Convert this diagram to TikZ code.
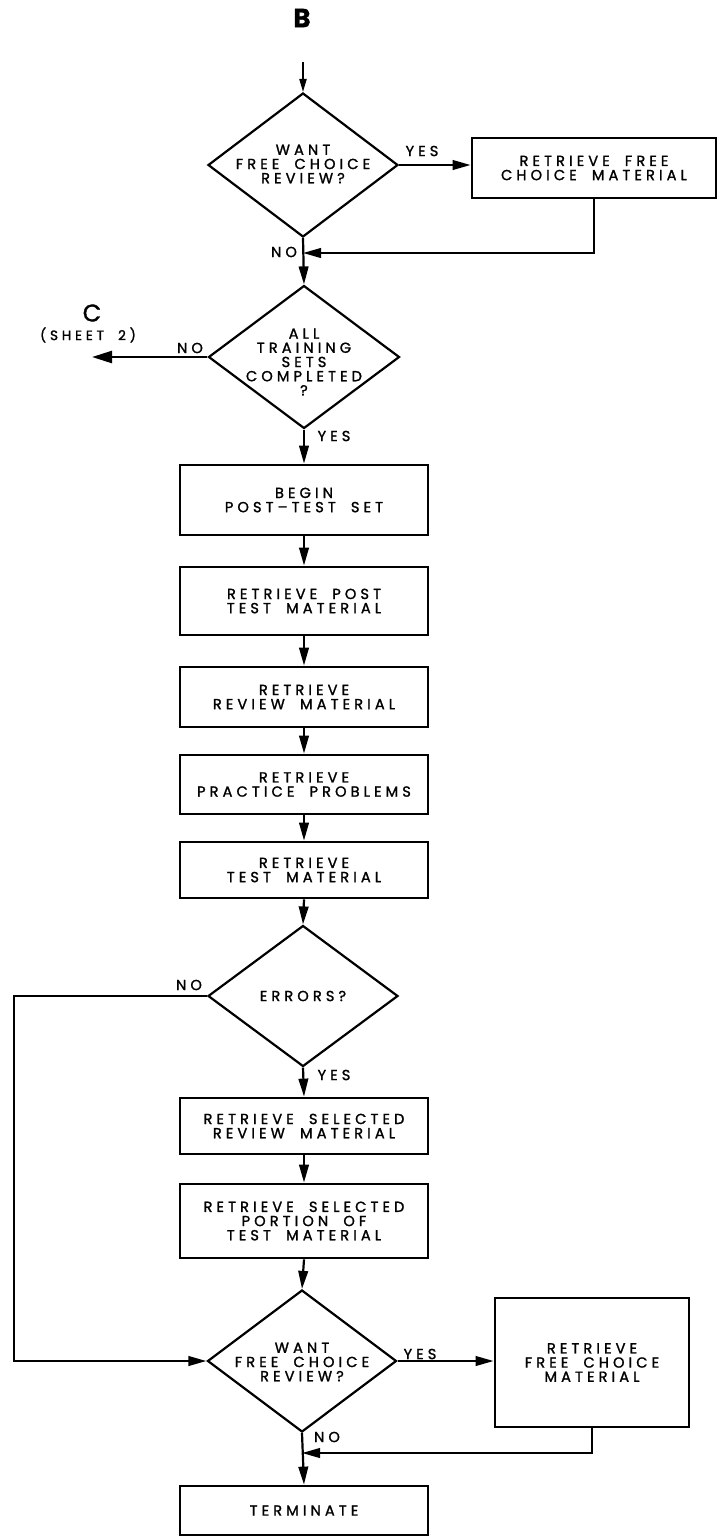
\documentclass[tikz,border=0pt]{standalone}
\usepackage{fontspec}
\setmainfont{Poppins}[LetterSpace=28,FakeBold=1.4,WordSpace=1.9]
\usetikzlibrary{arrows.meta,shapes.geometric}
\newcommand\ftx{\fontsize{7.3}{7.1}\selectfont}
\begin{document}
\begin{tikzpicture}[x=0.5pt,y=-0.5pt,
  arr/.style={line width=1.1pt,-{Triangle[length=9pt,width=4.8pt]}},
  arrsm/.style={line width=0.8pt,-{Triangle[length=6.5pt,width=3.6pt]}},
  arrbig/.style={line width=1.2pt,-{Triangle[length=10pt,width=6pt]}},
  box/.style={draw,line width=1.4pt,rectangle,inner sep=0pt,font=\ftx,align=center},
  dia/.style={draw,line width=1.1pt,diamond,inner sep=0pt},
  txt/.style={font=\ftx,align=center,inner sep=0pt},
  lab/.style={font=\ftx,inner sep=0pt}]
\useasboundingbox[fill=white] (0,0) rectangle (719,1538);

% titles
\node[font=\fontsize{13}{13}\selectfont\bfseries,inner sep=0pt] (tB) at (302,18) {B};
\node[font=\fontsize{12}{12}\selectfont,inner sep=0pt] (tC) at (92,313) {C};
\node[font=\fontsize{6.8}{6.8}\selectfont,inner sep=0pt] (tS) at (88,335) {(SHEET 2)};

% diamonds
\node[dia,minimum width=95pt,minimum height=72pt] (d1) at (303,165) {};
\node[txt] (d1t) at (303,164) {WANT\\FREE CHOICE\\REVIEW?};
\node[dia,minimum width=95.5pt,minimum height=71.5pt] (d2) at (304,357) {};
\node[txt] (d2t) at (304,362) {ALL\\TRAINING\\SETS\\COMPLETED\\?};
\node[dia,minimum width=95pt,minimum height=70.5pt] (d3) at (303,996) {};
\node[txt] (d3t) at (303,996) {ERRORS?};
\node[dia,minimum width=94.5pt,minimum height=71pt] (d4) at (302,1361) {};
\node[txt] (d4t) at (302,1362) {WANT\\FREE CHOICE\\REVIEW?};

% boxes
\node[box,minimum width=122pt,minimum height=30pt] (free1) at (594,168) {RETRIEVE FREE\\CHOICE MATERIAL};
\node[box,minimum width=124pt,minimum height=35pt] (begin) at (304,500) {BEGIN\\POST--TEST SET};
\node[box,minimum width=124pt,minimum height=34pt] (post) at (304,601) {RETRIEVE POST\\TEST MATERIAL};
\node[box,minimum width=124pt,minimum height=30pt] (rev) at (304,697) {RETRIEVE\\REVIEW MATERIAL};
\node[box,minimum width=124pt,minimum height=29.5pt] (prac) at (304,784.5) {RETRIEVE\\PRACTICE PROBLEMS};
\node[box,minimum width=124pt,minimum height=28pt] (test) at (304,870) {RETRIEVE\\TEST MATERIAL};
\node[box,minimum width=124pt,minimum height=28pt] (selrev) at (304,1126) {RETRIEVE SELECTED\\REVIEW MATERIAL};
\node[box,minimum width=124pt,minimum height=37pt] (selpor) at (304,1221) {RETRIEVE SELECTED\\PORTION OF\\TEST MATERIAL};
\node[box,minimum width=97pt,minimum height=64.5pt] (free2) at (592,1362.5) {RETRIEVE\\FREE CHOICE\\MATERIAL};
\node[box,minimum width=124pt,minimum height=24.5pt] (term) at (304,1510.5) {TERMINATE};

% coordinates
\coordinate (s0) at (303,62);
\coordinate (m1) at (303,253);
\coordinate (cC) at (92,357);
\coordinate (l1) at (14,996);
\coordinate (m2) at (302,1453);

% connectors
\draw[arrsm] (s0) -- (d1.north);
\draw[arr] (d1.east) -- (d1.east -| free1.west);
\draw[arr] (d1.south) -- (d2.north);
\draw[arr] (free1.south) |- (m1);
\draw[arrbig] (d2.west) -- (cC);
\draw[arr] (d2.south) -- (begin.north);
\draw[arr] (begin.south) -- (post.north);
\draw[arr] (post.south) -- (rev.north);
\draw[arr] (rev.south) -- (prac.north);
\draw[arr] (prac.south) -- (test.north);
\draw[arr] (test.south) -- (d3.north);
\draw[arr] (d3.south) -- (selrev.north);
\draw[arr] (selrev.south) -- (selpor.north);
\draw[arr] (selpor.south) -- (d4.north);
\draw[arr] (d3.west) -- (l1) |- (d4.west);
\draw[arr] (d4.east) -- (d4.east -| free2.west);
\draw[arr] (d4.south) -- (term.north);
\draw[arr] (free2.south) |- (m2);

% labels
\node[lab] (y1) at (422,151) {YES};
\node[lab] (n1) at (284,252) {NO};
\node[lab] (n2) at (190,348) {NO};
\node[lab] (y2) at (334,436) {YES};
\node[lab] (n3) at (189,985) {NO};
\node[lab] (y3) at (334,1075) {YES};
\node[lab] (y4) at (420,1354) {YES};
\node[lab] (n4) at (327,1437) {NO};
\end{tikzpicture}
\end{document}
